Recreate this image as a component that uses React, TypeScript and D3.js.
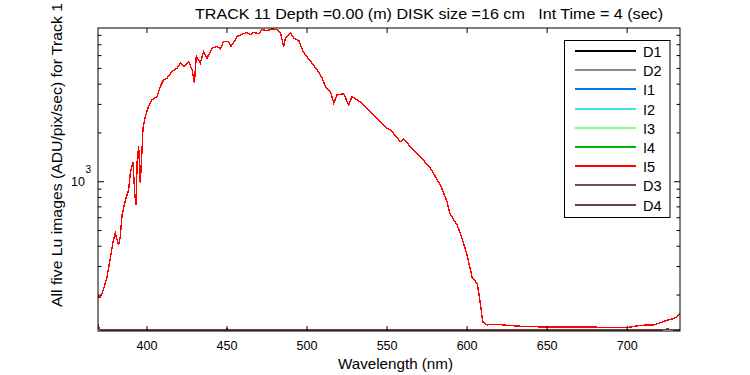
import React from 'react';
import * as d3 from 'd3';

// wavelength (nm) and Lu (ADU/pix/sec) (I1..I5 overlap)
const wavelength = [
  369.6, 370.8, 372.7, 375.0, 377.1, 379.0, 380.2, 382.3, 383.3, 384.4,
  386.5, 388.5, 389.6, 391.3, 392.3, 393.2, 393.8, 394.8, 395.8, 396.9,
  397.5, 399.0, 401.0, 403.1, 406.3, 408.3, 410.4, 412.5, 415.7, 418.8,
  420.8, 422.9, 426.0, 428.2, 429.6, 430.8, 433.3, 435.4, 437.5, 440.7,
  443.8, 445.8, 447.9, 451.0, 452.5, 454.2, 456.3, 460.4, 462.5, 464.6,
  466.7, 469.8, 471.9, 475.1, 478.2, 481.3, 483.3, 485.4, 486.5, 489.6,
  491.7, 494.8, 497.5, 500.0, 503.1, 506.3, 509.4, 511.5, 514.6, 516.7,
  518.8, 522.9, 526.0, 528.1, 531.3, 534.4, 537.5, 541.7, 545.8, 550.0,
  552.1, 558.3, 560.4, 564.6, 570.8, 577.1, 583.3, 587.5, 589.2, 593.8,
  596.9, 600.0, 603.1, 606.3, 607.7, 609.4, 610.0, 612.5, 618.8, 625.0,
  635.4, 650.0, 670.8, 700.0, 708.4, 716.5, 720.9, 725.0, 729.2, 733.0,
];
const brightLu = [
  194, 194, 214, 258, 337, 436, 481, 406, 455, 622,
  770, 888, 1131, 1329, 851, 717, 1305, 1662, 981, 1570,
  2148, 2523, 2938, 3201, 3355, 3868, 4256, 4360, 4788, 5025,
  5398, 5141, 5521, 4904, 4060, 5929, 5398, 6368, 5796, 6683,
  6836, 6589, 7340, 7340, 6836, 7236, 7884, 8194, 8348, 8078,
  8348, 8194, 8670, 8548, 8760, 8670, 8348, 6836, 7737, 8275,
  7706, 7447, 6368, 5879, 5398, 4904, 4360, 3868, 3602, 3052,
  3437, 3486, 2979, 3355, 3201, 3052, 2843, 2584, 2349, 2138,
  2087, 1767, 1836, 1646, 1427, 1210, 954, 752, 638, 540,
  446, 352, 258, 235, 194, 146, 136, 131, 132, 130,
  128, 127, 127, 126, 130, 131, 135, 140, 143, 153,
];

// dark images (D1..D4)
const darkWave = [369.4, 370.2, 371.0, 449.6, 450.0, 450.4, 600.0, 700.0, 722.0, 725.0, 729.0, 733.0];
const darkLu = [132, 123, 122, 122, 124, 122, 122, 122, 122, 123.5, 122, 122];

const labels = ['D1', 'D2', 'I1', 'I2', 'I3', 'I4', 'I5', 'D3', 'D4'];
const colors = ['#000000', '#8a8a8a', '#0078e6', '#38e4f0', '#80ff80', '#00b400', '#ff0000', '#804848', '#6e4040'];

const xTicks = [400, 450, 500, 550, 600, 650, 700];
const titleText = 'TRACK 11 Depth =0.00 (m) DISK size =16 cm   Int Time = 4 (sec)';

const W = 750;
const H = 375;
const margin = { top: 28, right: 70, bottom: 44, left: 98 };
const font = '"Liberation Sans", Arial, sans-serif';

const App: React.FC = () => {
  const innerW = W - margin.left - margin.right;
  const innerH = H - margin.top - margin.bottom;

  const x = d3.scaleLinear().domain([369.4, 733]).range([0, innerW]);
  const y = d3.scaleLog().domain([120, 8880]).range([innerH, 0]);

  const series = labels.map((label, i) => {
    const dark = label.startsWith('D');
    const wv = dark ? darkWave : wavelength;
    const vals = dark ? darkLu : brightLu;
    return { label, color: colors[i], points: wv.map((w, k) => [w, vals[k]] as [number, number]) };
  });

  const line = d3.line<[number, number]>()
    .x(d => x(d[0]))
    .y(d => y(d[1]));

  const yMinor: number[] = [];
  [100, 1000].forEach(dec => {
    for (let m = 2; m <= 9; m++) {
      const v = dec * m;
      if (v >= y.domain()[0] && v <= y.domain()[1]) yMinor.push(v);
    }
  });
  const yMajor = [1000];

  return (
    <svg width={W} height={H} style={{ position: 'absolute', left: 0, top: 0, background: '#fff' }} fontFamily={font}>
      <defs>
        <clipPath id="plotclip">
          <rect x={0} y={0} width={innerW} height={innerH} />
        </clipPath>
      </defs>
      <text x={195} y={19} fontSize={15} fill="#000" textLength={468} lengthAdjust="spacingAndGlyphs" style={{ whiteSpace: 'pre' }}>
        {titleText}
      </text>
      <g transform={`translate(${margin.left},${margin.top})`}>
        <g clipPath="url(#plotclip)">
          {series.map(s => (
            <path key={s.label} d={line(s.points) ?? ''} fill="none" stroke={s.color} strokeWidth={1.4} shapeRendering="crispEdges" />
          ))}
        </g>
        <rect x={0} y={0} width={innerW} height={innerH} fill="none" stroke="#000" strokeWidth={1} />
        {xTicks.map(t => (
          <g key={t}>
            <line x1={x(t)} x2={x(t)} y1={innerH} y2={innerH - 5} stroke="#000" />
            <line x1={x(t)} x2={x(t)} y1={0} y2={5} stroke="#000" />
            <text x={x(t)} y={innerH + 19} textAnchor="middle" fontSize={12.5}>{t}</text>
          </g>
        ))}
        {yMinor.map(t => (
          <g key={t}>
            <line x1={0} x2={3.5} y1={y(t)} y2={y(t)} stroke="#000" />
            <line x1={innerW} x2={innerW - 3.5} y1={y(t)} y2={y(t)} stroke="#000" />
          </g>
        ))}
        {yMajor.map(t => (
          <g key={t}>
            <line x1={0} x2={6} y1={y(t)} y2={y(t)} stroke="#000" />
            <line x1={innerW} x2={innerW - 6} y1={y(t)} y2={y(t)} stroke="#000" />
            <text x={-13} y={y(t) + 4} textAnchor="end" fontSize={12.5}>10</text>
            <text x={-12.5} y={y(t) - 9} textAnchor="start" fontSize={10}>{Math.log10(t)}</text>
          </g>
        ))}
      </g>
      <text x={395.5} y={369} textAnchor="middle" fontSize={15} textLength={115} lengthAdjust="spacingAndGlyphs">
        Wavelength (nm)
      </text>
      <text transform="translate(62,307) rotate(-90)" textAnchor="start" fontSize={15} textLength={304} lengthAdjust="spacingAndGlyphs">
        All five Lu images (ADU/pix/sec) for Track 1
      </text>
      <g>
        <rect x={564.5} y={40.5} width={105.5} height={177} fill="#fff" stroke="#000" />
        {series.map((s, i) => (
          <g key={s.label} transform={`translate(0,${Math.round(51 + i * 19.2)})`}>
            <line x1={575} x2={636} y1={0} y2={0} stroke={s.color} strokeWidth={2} />
            <text x={643} y={6} fontSize={14.5}>{s.label}</text>
          </g>
        ))}
      </g>
    </svg>
  );
};

export default App;
